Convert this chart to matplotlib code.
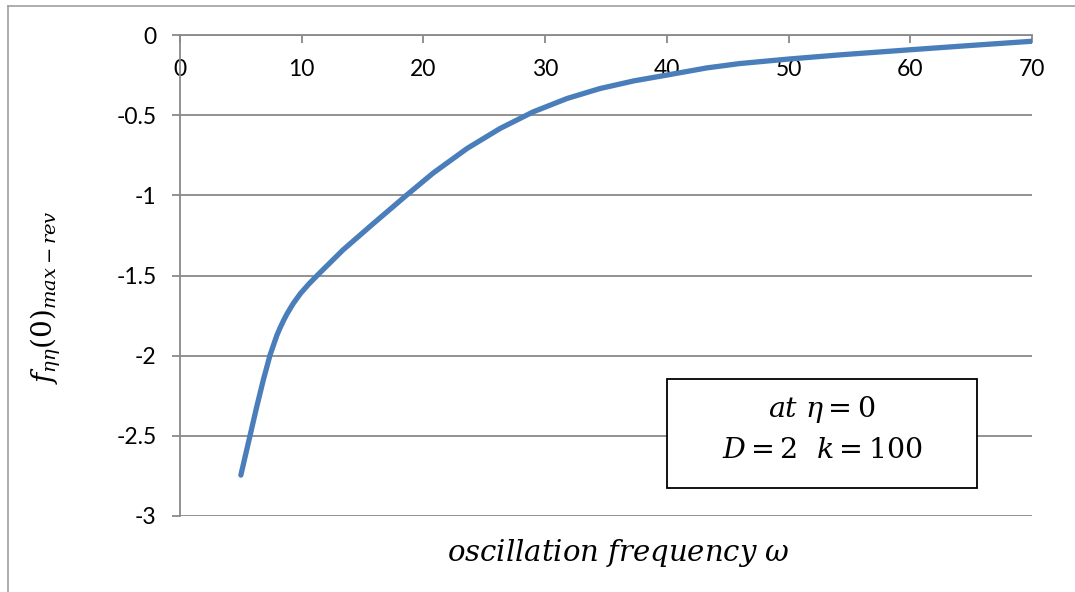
import matplotlib.pyplot as plt
from matplotlib.patches import Rectangle
from matplotlib.lines import Line2D

# =======================
# data
# =======================
omega = [5.0, 5.75, 6.3, 6.85, 7.4, 7.7, 7.95, 8.2, 8.5, 8.8, 9.3, 9.9, 10.6,
         11.4, 13.4, 15.9, 18.6, 20.8, 23.6, 26.3, 29.0, 31.8, 34.5, 37.3,
         40.0, 43.3, 46.0, 50.0, 54.2, 60.0, 65.2, 70.0]
f_rev = [-2.745, -2.50, -2.32, -2.15, -1.996, -1.93, -1.875, -1.83, -1.782,
         -1.738, -1.675, -1.612, -1.552, -1.49, -1.34, -1.175, -1.0, -0.861,
         -0.707, -0.583, -0.480, -0.396, -0.334, -0.286, -0.25, -0.205,
         -0.178, -0.150, -0.124, -0.092, -0.064, -0.039]

x_ticks = [0, 10, 20, 30, 40, 50, 60, 70]
y_ticks = [0, -0.5, -1, -1.5, -2, -2.5, -3]

grey = "#898989"
blue = "#4a7ebb"

plt.rcParams['font.family'] = ['Lato', 'DejaVu Sans']
plt.rcParams['mathtext.fontset'] = 'dejavuserif'

fig = plt.figure(figsize=(10.75, 5.92), dpi=100)
ax = fig.add_axes([180 / 1075, 1 - 516 / 592, 852 / 1075, 481 / 592])

ax.plot(omega, f_rev, color=blue, linewidth=3.8, solid_capstyle='round',
        solid_joinstyle='round', zorder=3)

ax.set_xlim(0, 70)
ax.set_ylim(-3, 0)
ax.set_xticks(x_ticks)
ax.set_yticks(y_ticks)
ax.set_yticklabels([f"{v:g}" for v in y_ticks])

ax.spines['top'].set_visible(False)
ax.spines['right'].set_visible(False)
ax.spines['bottom'].set_position(('data', 0))
for s in ('bottom', 'left'):
    ax.spines[s].set_color(grey)
    ax.spines[s].set_linewidth(1.3)

ax.tick_params(axis='x', direction='out', length=6, width=1.3, color=grey,
               labelsize=16.5, pad=11)
ax.tick_params(axis='y', direction='out', length=6, width=1.3, color=grey,
               labelsize=16.5, pad=11)
ax.yaxis.grid(True, color=grey, linewidth=1.3)
ax.set_axisbelow(True)

ax.set_xlabel(r"$oscillation\ frequency\ \omega$", fontsize=21, va='center')
ax.xaxis.set_label_coords(0.514, -0.077)
ax.set_ylabel(r"$f_{\eta\eta}(0)_{max-rev}$", fontsize=20)
ax.yaxis.set_label_coords(-0.137, 0.455)

# annotation box
ax.add_patch(Rectangle((0.5716, 0.0582), 0.3638, 0.2266, transform=ax.transAxes,
                       facecolor='white', edgecolor='black', linewidth=1.3, zorder=4))
ax.text(0.7535, 0.222, r"$at\ \eta = 0$", transform=ax.transAxes,
        ha='center', va='center', fontsize=20.5, zorder=5)
ax.text(0.7535, 0.137, r"$D = 2\ \ k = 100$", transform=ax.transAxes,
        ha='center', va='center', fontsize=20.5, zorder=5)

# outer frame (top and left edges visible)
fig.add_artist(Line2D([8 / 1075, 1.0], [1 - 5.5 / 592, 1 - 5.5 / 592],
                      transform=fig.transFigure, color="#a0a0a0", linewidth=1.2))
fig.add_artist(Line2D([8 / 1075, 8 / 1075], [0.0, 1 - 5.5 / 592],
                      transform=fig.transFigure, color="#a0a0a0", linewidth=1.2))

fig.savefig("out.png", dpi=100)
